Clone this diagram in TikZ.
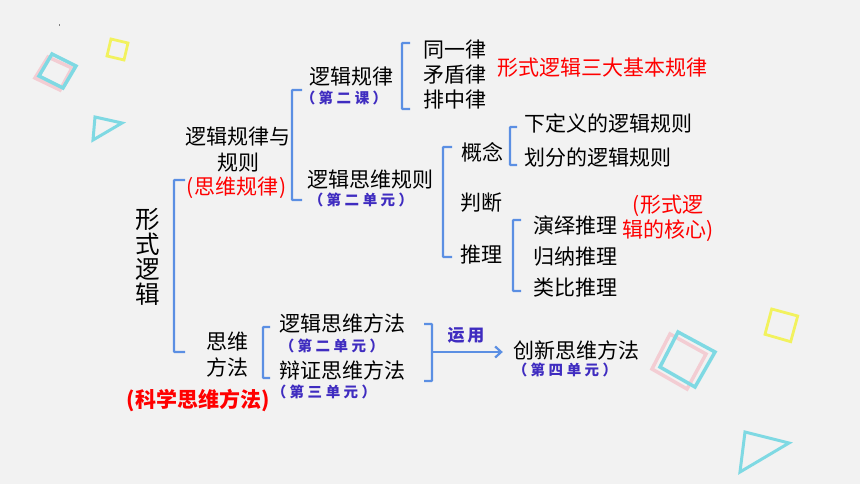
\documentclass[tikz,border=0pt]{standalone}
\usepackage{fontspec}
\setmainfont{Noto Sans CJK SC}
\usetikzlibrary{arrows.meta}
\definecolor{bg}{HTML}{F2F2F2}
\definecolor{brk}{HTML}{5B8FE3}
\definecolor{lbl}{HTML}{3F2CC0}
\definecolor{cyn}{HTML}{7FD9E3}
\definecolor{pnk}{HTML}{F3CDD3}
\definecolor{ylw}{HTML}{F2F25E}
\newcommand\gp{\hspace{3.5pt}}
\begin{document}
\begin{tikzpicture}[x=1pt,y=-1pt,
  br/.style={draw=brk, line width=2.2pt, rounded corners=0.8pt},
  t/.style={font=\fontsize{21}{26}\selectfont, inner sep=0pt, text=black},
  lb/.style={font=\bfseries\fontsize{14.5}{17}\selectfont, inner sep=0pt, text=lbl},
  rd/.style={font=\fontsize{21}{25}\selectfont, inner sep=0pt, text=red},
  deco/.style={line width=3.5pt, line join=miter}
]
\fill[bg] (0,0) rectangle (860,484);
\useasboundingbox (0,0) rectangle (860,484);
% decorations
\fill[gray] (59,24) rectangle (59.6,26);
\draw[deco, pnk] (48,57) -- (72,68) -- (60,90) -- (35,78) -- cycle;
\draw[deco, cyn] (52,54) -- (76,66) -- (63,88) -- (39,76) -- cycle;
\draw[line width=2.8pt, ylw] (111,39) -- (128,43) -- (124,60) -- (107,56) -- cycle;
\draw[line width=3pt, cyn, line join=miter] (95,117) -- (122,123) -- (93,140) -- cycle;
\draw[deco, pnk] (670,334) -- (706,354) -- (687,389) -- (652,369) -- cycle;
\draw[deco, cyn] (678,332) -- (715,352) -- (695,387) -- (660,367) -- cycle;
\draw[line width=2.8pt, ylw] (771.7,309) -- (797.7,316) -- (790.7,341.7) -- (765,334.3) -- cycle;
\draw[line width=3pt, cyn, line join=miter] (745,432) -- (789,443) -- (740,472) -- cycle;

% nodes
\node[t, align=center, font=\fontsize{24.5}{24.75}\selectfont] (xs) at (148,257) {形\\式\\逻\\辑};
\node[t, align=center] (gl) at (238,150) {逻辑规律与\\规则};
\node[rd] (swgl) at (237,188) {(\hspace{1pt}思维规律\hspace{1pt})};
\node[t] (ljgl) at (351,77) {逻辑规律};
\node[lb] (k2) at (344,98) {（\gp{}第\gp{}二\gp{}课\gp{}）};
\node[t] (ljsw) at (370,180) {逻辑思维规则};
\node[lb] (d2a) at (361,200) {（\gp{}第\gp{}二\gp{}单\gp{}元\gp{}）};
\node[t] (tyl) at (455,50) {同一律};
\node[t] (mdl) at (455,75) {矛盾律};
\node[t] (pzl) at (455,100) {排中律};
\node[rd] (sdgl) at (602,68) {形式逻辑三大基本规律};
\node[t] (gn) at (482,152) {概念};
\node[t] (xdy) at (608,123) {下定义的逻辑规则};
\node[t] (hf) at (598,158) {划分的逻辑规则};
\node[t] (pd) at (481,203) {判断};
\node[t] (tl) at (481,255) {推理};
\node[t] (yy) at (575,225) {演绎推理};
\node[t] (gn2) at (575,257) {归纳推理};
\node[t] (lb2) at (575,288) {类比推理};
\node[rd, align=center] (hx) at (668,218) {(形式逻\\辑的核心)};
\node[t, align=center] (swff) at (227,355) {思维\\方法};
\node[rd, font=\bfseries\fontsize{21}{25}\selectfont] (kx) at (198,400) {(科学思维方法)};
\node[t] (ljff) at (342,323) {逻辑思维方法};
\node[lb] (d2b) at (332,346) {（\gp{}第\gp{}二\gp{}单\gp{}元\gp{}）};
\node[t] (bzff) at (342,370) {辩证思维方法};
\node[lb] (d3) at (324,392) {（\gp{}第\gp{}三\gp{}单\gp{}元\gp{}）};
\node[lb, font=\bfseries\fontsize{17}{19}\selectfont] (yyg) at (466,335) {运\hspace{3pt}用};
\node[t] (cx) at (576,350) {创新思维方法};
\node[lb] (d4) at (565,370) {（\gp{}第\gp{}四\gp{}单\gp{}元\gp{}）};

% brackets
\draw[br] (185,180) -- (174,180) -- (174,352) -- (185,352);
\draw[br] (302,90) -- (292,90) -- (292,200) -- (302,200);
\draw[br] (410,43) -- (402,43) -- (402,109) -- (410,109);
\draw[br] (452,147) -- (443,147) -- (443,257) -- (452,257);
\draw[br] (517,127) -- (510,127) -- (510,165) -- (517,165);
\draw[br] (521,220) -- (513,220) -- (513,291) -- (521,291);
\draw[br] (270,327) -- (263,327) -- (263,378) -- (270,378);
\draw[br] (424,324) -- (432,324) -- (432,381) -- (424,381);
\coordinate (m8) at (432,352);
\draw[br, -{Straight Barb[length=6pt,width=11pt]}] (m8) -- ([xshift=-10pt]m8 -| cx.west);
\end{tikzpicture}
\end{document}
